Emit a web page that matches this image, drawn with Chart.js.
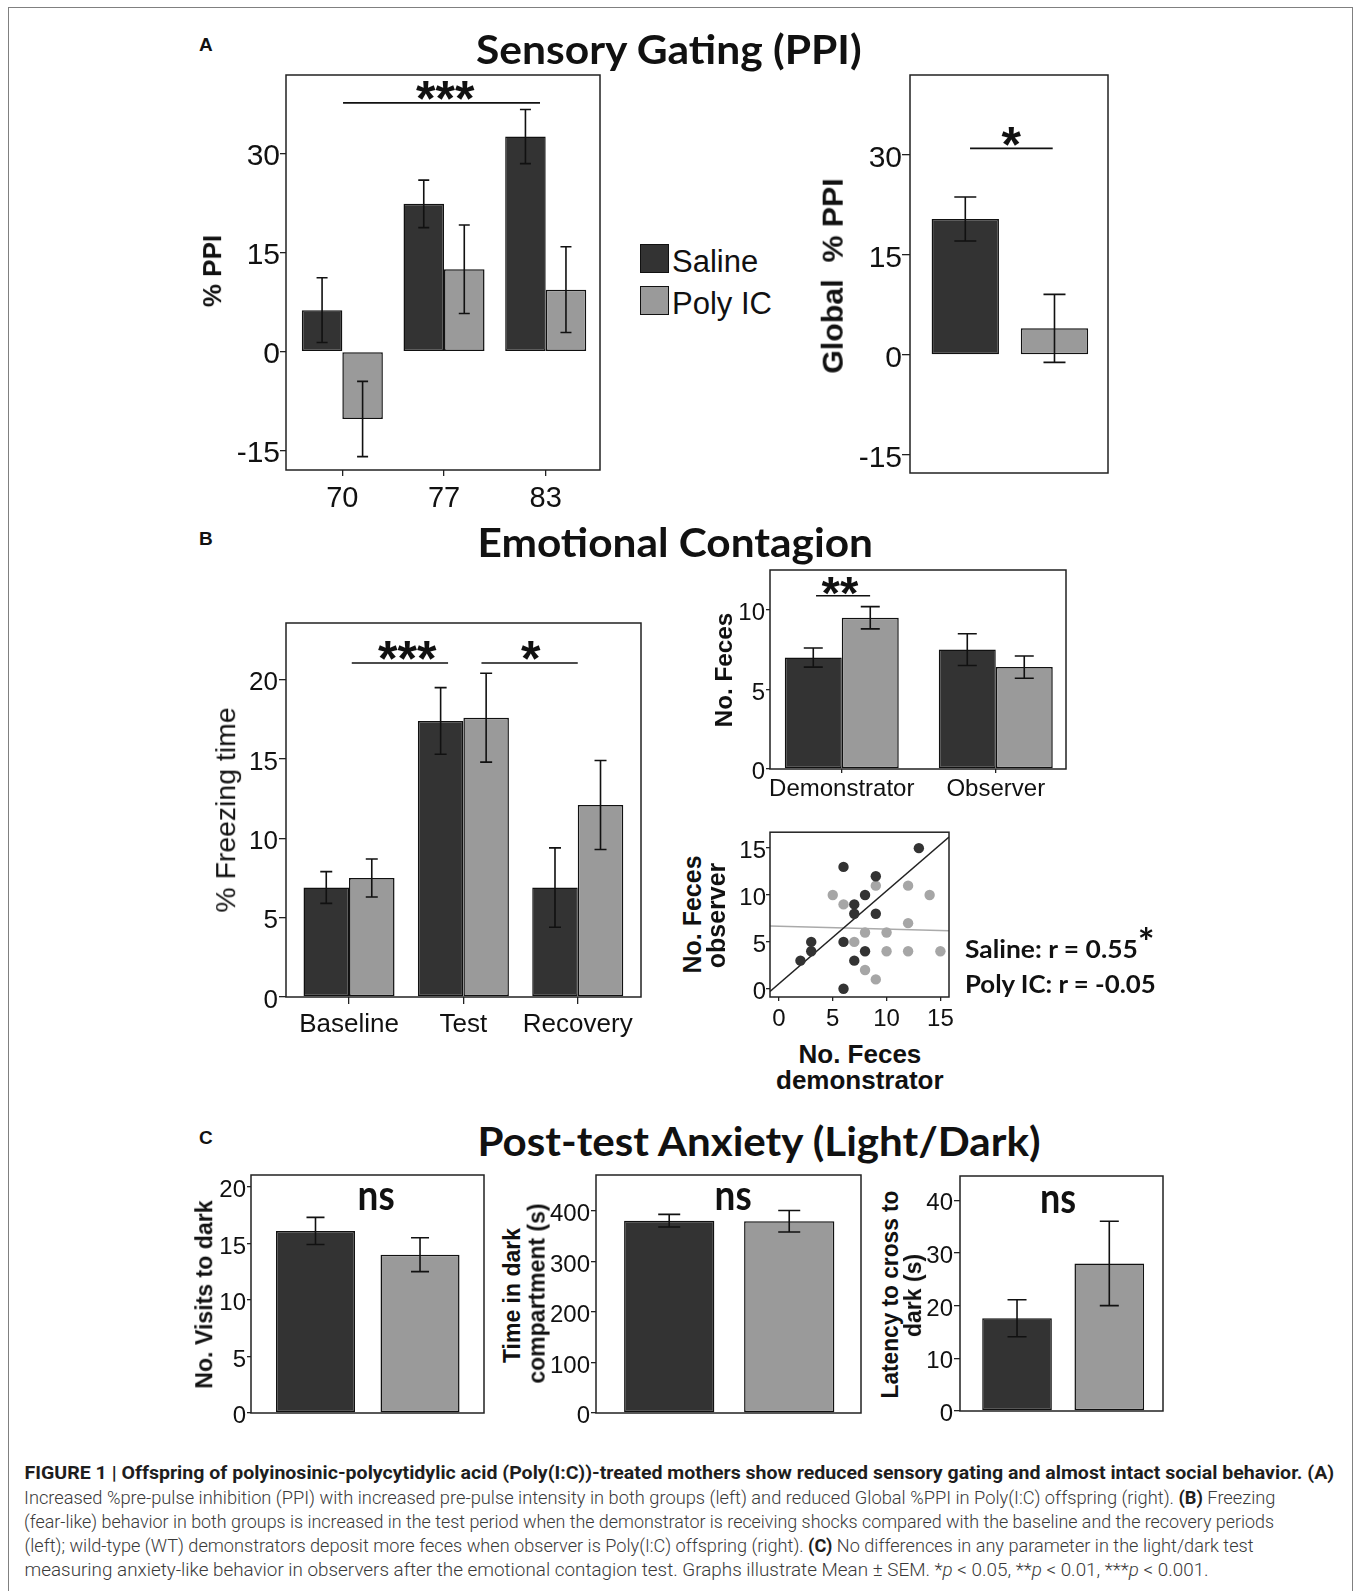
<!DOCTYPE html>
<html><head><meta charset="utf-8">
<script src="https://cdn.jsdelivr.net/npm/chart.js@4/dist/chart.umd.min.js"></script>
<style>
html,body{margin:0;padding:0;background:#fff;}
#page{position:relative;width:1354px;height:1591px;overflow:hidden;background:#fff;}
.frame{position:absolute;left:8px;top:7px;width:1345px;height:1700px;border:1px solid #808080;box-sizing:border-box;}
.t{position:absolute;white-space:nowrap;line-height:1;transform-origin:50% 50%;color:#111;}
.sq{position:absolute;box-sizing:border-box;border:1.5px solid #111;}
</style></head><body><div id="page"><div class="frame"></div></div>
<script>
// ---------------- DATA ----------------
const ppiIntensities = ['70', '77', '83'];
const ppiSaline = [6.3, 22.4, 32.6];
const ppiSalineSem = [4.9, 3.6, 4.1];
const ppiPoly = [-10.2, 12.5, 9.4];
const ppiPolySem = [5.7, 6.7, 6.5];
const ppiTicks = [-15, 0, 15, 30];

const globalGroups = ['Saline', 'Poly IC'];
const globalPPI = [20.4, 4.0];
const globalPPISem = [3.3, 5.1];

const freezingPeriods = ['Baseline', 'Test', 'Recovery'];
const freezingSaline = [6.9, 17.4, 6.9];
const freezingSalineSem = [1.0, 2.1, 2.5];
const freezingPoly = [7.5, 17.6, 12.1];
const freezingPolySem = [1.2, 2.8, 2.8];
const freezingTicks = [0, 5, 10, 15, 20];

const fecesRoles = ['Demonstrator', 'Observer'];
const fecesSaline = [7.0, 7.5];
const fecesSalineSem = [0.6, 1.0];
const fecesPoly = [9.5, 6.4];
const fecesPolySem = [0.7, 0.7];
const fecesTicks = [0, 5, 10];

const scatterSalineDemo = [13, 6, 9, 8, 7, 7, 9, 3, 3, 2, 6, 8, 7, 6];
const scatterSalineObs  = [15, 13, 12, 10, 9, 8, 8, 5, 4, 3, 5, 4, 3, 0];
const scatterPolyDemo = [5, 6, 9, 12, 14, 12, 8, 10, 7, 10, 12, 15, 8, 9];
const scatterPolyObs  = [10, 9, 11, 11, 10, 7, 6, 6, 5, 4, 4, 4, 2, 1];
const scatterTicks = [0, 5, 10, 15];
const salineFit = { intercept: 0.54, slope: 0.99 };
const polyFit = { intercept: 6.66, slope: -0.03 };

const visitsToDark = [16.1, 14.0];
const visitsToDarkSem = [1.2, 1.5];
const visitsTicks = [0, 5, 10, 15, 20];
const timeInDark = [380.6, 379.4];
const timeInDarkSem = [12.5, 21.3];
const timeTicks = [0, 100, 200, 300, 400];
const latencyToDark = [17.6, 28.0];
const latencyToDarkSem = [3.5, 8.0];
const latencyTicks = [0, 10, 20, 30, 40];

// ---------------- STYLE ----------------
const DARK = '#333333', LIGHT = '#9a9a9a', EDGE = '#111111';
const FONT = "'Liberation Sans', Arial, sans-serif";
const LATO = "Lato, 'Open Sans', sans-serif";
const CAP = "Roboto, 'Liberation Sans', sans-serif";
const page = document.getElementById('page');

Chart.defaults.font.family = FONT;
Chart.defaults.color = '#111';

const decoPlugin = {
  id: 'deco',
  afterDatasetsDraw(chart) {
    const ctx = chart.ctx, a = chart.chartArea;
    const ys = chart.scales.y, xs = chart.scales.x;
    ctx.save();
    chart.data.datasets.forEach((ds, i) => {
      if (!ds.errorBars) return;
      const meta = chart.getDatasetMeta(i);
      ctx.strokeStyle = EDGE; ctx.lineWidth = 1.6;
      meta.data.forEach((bar, j) => {
        const d = ds.data[j];
        const v = typeof d === 'object' ? d.y : d, e = ds.errorBars[j];
        const x = bar.x, y1 = ys.getPixelForValue(v + e), y2 = ys.getPixelForValue(v - e);
        const h = ds.capWidth / 2;
        ctx.beginPath();
        ctx.moveTo(x, y1); ctx.lineTo(x, y2);
        ctx.moveTo(x - h, y1); ctx.lineTo(x + h, y1);
        ctx.moveTo(x - h, y2); ctx.lineTo(x + h, y2);
        ctx.stroke();
      });
    });
    const sig = (chart.options.plugins.deco || {}).sig || [];
    ctx.strokeStyle = EDGE; ctx.lineWidth = 1.6;
    sig.forEach(s => {
      const y = ys.getPixelForValue(s.value);
      ctx.beginPath();
      ctx.moveTo(xs.getPixelForValue(s.from), y);
      ctx.lineTo(xs.getPixelForValue(s.to), y);
      ctx.stroke();
    });
    ctx.strokeStyle = '#222'; ctx.lineWidth = 1.5;
    ctx.strokeRect(a.left, a.top, a.right - a.left, a.bottom - a.top);
    ctx.restore();
  }
};

function mountCanvas(box, yW, pT, pR, xH) {
  const w = Math.round(yW + (box.R - box.L) + pR);
  const h = Math.round(pT + (box.B - box.T) + xH);
  const c = document.createElement('canvas');
  c.width = w; c.height = h;
  c.style.cssText = `position:absolute;left:${box.L - yW}px;top:${box.T - pT}px;width:${w}px;height:${h}px;`;
  page.appendChild(c);
  return c;
}

function yAxis(min, max, ticks, yW, size, tl, pad) {
  return {
    type: 'linear', min, max,
    afterBuildTicks: s => { s.ticks = ticks.map(v => ({ value: v })); },
    afterFit: s => { s.width = yW; s.paddingTop = 0; s.paddingBottom = 0; },
    grid: { display: true, drawOnChartArea: false, drawTicks: true, tickLength: tl, color: '#222', lineWidth: 1.3 },
    border: { display: false },
    ticks: { font: { size, family: FONT }, color: '#111', padding: pad, labelOffset: 3.5, autoSkip: false, maxRotation: 0 }
  };
}
// group axis: linear index scale so that group centres sit where the original put them
function xIdx(labels, min, max, xH, size, tl, pad, show) {
  return {
    type: 'linear', min, max, offset: false, display: show !== false,
    afterBuildTicks: s => { s.ticks = labels.map((_, i) => ({ value: i })); },
    afterFit: s => { s.height = xH; s.paddingLeft = 0; s.paddingRight = 0; },
    grid: { display: tl > 0, offset: false, drawOnChartArea: false, drawTicks: true, tickLength: tl, color: '#222', lineWidth: 1.3 },
    border: { display: false },
    ticks: { display: size > 0, callback: v => labels[Math.round(v)], font: { size: size || 12, family: FONT },
             color: '#111', padding: pad, maxRotation: 0, autoSkip: false }
  };
}
const asPts = arr => arr.map((y, i) => ({ x: i, y }));
function barDs(data, bg, sem, cp, capW) {
  return { data: asPts(data), backgroundColor: bg, borderColor: EDGE, borderWidth: 1.5, borderSkipped: false,
           categoryPercentage: cp, barPercentage: 1, errorBars: sem, capWidth: capW };
}
function baseOpts(pT, pR, pB, scales, sig) {
  return {
    responsive: false, animation: false, events: [],
    layout: { padding: { left: 0, top: pT, right: pR, bottom: pB } },
    plugins: { legend: { display: false }, tooltip: { enabled: false }, deco: { sig: sig || [] } },
    scales
  };
}

// ---- A left: %PPI by pre-pulse intensity
(function () {
  const box = { L: 286, T: 75, R: 600, B: 470 };
  const yW = 80, pT = 5, pR = 5, xH = 45;
  new Chart(mountCanvas(box, yW, pT, pR, xH), {
    type: 'bar', plugins: [decoPlugin],
    data: { datasets: [
      barDs(ppiSaline, DARK, ppiSalineSem, 0.797, 11),
      barDs(ppiPoly, LIGHT, ppiPolySem, 0.797, 11)] },
    options: baseOpts(pT, pR, 0, {
      x: xIdx(ppiIntensities, -0.554, 2.534, xH, 29, 6, 6),
      y: yAxis(-17.92, 41.92, ppiTicks, yW, 30, 6, 0)
    }, [{ from: 0.007, to: 1.944, value: 37.7 }])
  });
})();

// ---- A right: Global %PPI
(function () {
  const box = { L: 910, T: 75, R: 1108, B: 473 };
  const yW = 70, pT = 5, pR = 5, pB = 24;
  new Chart(mountCanvas(box, yW, pT, pR, pB), {
    type: 'bar', plugins: [decoPlugin],
    data: { datasets: [barDs(globalPPI, [DARK, LIGHT], globalPPISem, 0.755, 22)] },
    options: baseOpts(pT, pR, pB, {
      x: xIdx(globalGroups, -0.62, 1.6, 0, 0, 0, 0, false),
      y: yAxis(-17.7, 42.0, ppiTicks, yW, 30, 8, 0)
    }, [{ from: 0.053, to: 0.98, value: 31.0 }])
  });
})();

// ---- B left: % freezing time
(function () {
  const box = { L: 286, T: 623, R: 641, B: 997 };
  const yW = 70, pT = 5, pR = 5, xH = 45;
  new Chart(mountCanvas(box, yW, pT, pR, xH), {
    type: 'bar', plugins: [decoPlugin],
    data: { datasets: [
      barDs(freezingSaline, DARK, freezingSalineSem, 0.796, 12),
      barDs(freezingPoly, LIGHT, freezingPolySem, 0.796, 12)] },
    options: baseOpts(pT, pR, 0, {
      x: xIdx(freezingPeriods, -0.551, 2.553, xH, 26, 7, 5),
      y: yAxis(0, 23.57, freezingTicks, yW, 26, 7, 1)
    }, [{ from: 0.024, to: 0.866, value: 21.05 }, { from: 1.158, to: 2.0, value: 21.05 }])
  });
})();

// ---- B top right: No. feces
(function () {
  const box = { L: 770, T: 570, R: 1066, B: 769 };
  const yW = 50, pT = 5, pR = 5, xH = 35;
  new Chart(mountCanvas(box, yW, pT, pR, xH), {
    type: 'bar', plugins: [decoPlugin],
    data: { datasets: [
      barDs(fecesSaline, DARK, fecesSalineSem, 0.74, 19),
      barDs(fecesPoly, LIGHT, fecesPolySem, 0.74, 19)] },
    options: baseOpts(pT, pR, 0, {
      x: xIdx(fecesRoles, -0.466, 1.456, xH, 24, 4, 2),
      y: yAxis(0, 12.5, fecesTicks, yW, 24, 4, 1)
    }, [{ from: -0.167, to: 0.184, value: 10.88 }])
  });
})();

// ---- B scatter: feces demonstrator vs observer
(function () {
  const box = { L: 770, T: 832, R: 949, B: 997 };
  const yW = 40, pT = 5, pR = 20, xH = 35;
  const xMin = -0.83, xMax = 15.8;
  const pts = (xs, ys) => xs.map((x, i) => ({ x, y: ys[i] }));
  const fitLine = f => [xMin, xMax].map(x => ({ x, y: f.intercept + f.slope * x }));
  const xAx = yAxis(xMin, xMax, scatterTicks, 0, 24, 4, 4);
  xAx.ticks.labelOffset = 0;
  xAx.afterFit = s => { s.height = xH; s.paddingLeft = 0; s.paddingRight = 0; };
  new Chart(mountCanvas(box, yW, pT, pR, xH), {
    type: 'scatter', plugins: [decoPlugin],
    data: { datasets: [
      { type: 'scatter', data: pts(scatterSalineDemo, scatterSalineObs), pointRadius: 5.2, pointBackgroundColor: DARK, pointBorderWidth: 0, order: 0 },
      { type: 'scatter', data: pts(scatterPolyDemo, scatterPolyObs), pointRadius: 5.2, pointBackgroundColor: '#a6a6a6', pointBorderWidth: 0, order: 0 },
      { type: 'line', data: fitLine(salineFit), borderColor: '#222', borderWidth: 1.5, pointRadius: 0, order: 1 },
      { type: 'line', data: fitLine(polyFit), borderColor: '#aaaaaa', borderWidth: 1.5, pointRadius: 0, order: 1 }
    ] },
    options: baseOpts(pT, pR, 0, {
      x: xAx,
      y: yAxis(-0.88, 16.7, scatterTicks, yW, 24, 4, 0)
    })
  });
})();

// ---- C: light/dark test
function ldChart(box, yW, vals, sem, ymax, ticks, tl, capW, xr, cp) {
  const pT = 5, pR = 5, pB = 22;
  new Chart(mountCanvas(box, yW, pT, pR, pB), {
    type: 'bar', plugins: [decoPlugin],
    data: { datasets: [barDs(vals, [DARK, LIGHT], sem, cp, capW)] },
    options: baseOpts(pT, pR, pB, {
      x: xIdx(globalGroups, xr[0], xr[1], 0, 0, 0, 0, false),
      y: yAxis(0, ymax, ticks, yW, 24, tl, 1)
    })
  });
}
ldChart({ L: 251, T: 1175, R: 484, B: 1413 }, 50, visitsToDark, visitsToDarkSem, 21.05, visitsTicks, 4, 18, [-0.617, 1.612], 0.756);
ldChart({ L: 596, T: 1175, R: 861, B: 1413 }, 60, timeInDark, timeInDarkSem, 471, timeTicks, 5, 22, [-0.61, 1.598], 0.752);
ldChart({ L: 960, T: 1176, R: 1163, B: 1411 }, 50, latencyToDark, latencyToDarkSem, 44.6, latencyTicks, 6, 19, [-0.618, 1.582], 0.755);

// ---------------- TEXT ----------------
const texts = [];
function txt(html, o) {
  const d = document.createElement('div');
  d.className = 't';
  d.innerHTML = html;
  d.style.fontFamily = o.f || FONT;
  d.style.fontSize = o.size + 'px';
  d.style.fontWeight = o.w || 400;
  if (o.c) d.style.color = o.c;
  page.appendChild(d);
  texts.push([d, o]);
}
function place() {
  texts.forEach(([d, o]) => {
    d.style.transform = 'none';
    const w = d.offsetWidth, h = d.offsetHeight;
    const sx = o.fit ? o.fit / w : 1;
    const vc = o.vc === undefined ? 0.5 : o.vc;
    let cx = o.x;
    if (o.anchor === 'left') cx = o.x + w * sx / 2;
    d.style.left = (cx - w / 2) + 'px';
    if (o.rot) {
      d.style.top = (o.y - h / 2) + 'px';
      d.style.transform = `rotate(-90deg) scaleX(${sx})`;
    } else {
      d.style.top = (o.y - vc * h) + 'px';
      d.style.transform = `scaleX(${sx})`;
    }
  });
}

txt('Sensory Gating (PPI)', { x: 669, y: 48, size: 41, w: 700, f: LATO, fit: 386 });
txt('Emotional Contagion', { x: 675, y: 541, size: 41, w: 700, f: LATO, fit: 396 });
txt('Post-test Anxiety (Light/Dark)', { x: 759, y: 1140, size: 41, w: 700, f: LATO, fit: 563 });
txt('A', { x: 206, y: 44, size: 19, w: 700 });
txt('B', { x: 206, y: 538, size: 19, w: 700 });
txt('C', { x: 206, y: 1137, size: 19, w: 700 });

[[DARK, 244], [LIGHT, 286]].forEach(([col, top]) => {
  const s = document.createElement('div');
  s.className = 'sq';
  s.style.cssText += `left:640px;top:${top}px;width:29px;height:29px;background:${col};`;
  page.appendChild(s);
});
txt('Saline', { x: 672, y: 261, size: 31, anchor: 'left' });
txt('Poly IC', { x: 672, y: 303, size: 31, anchor: 'left' });

txt('% PPI', { x: 212, y: 271, size: 26, w: 700, rot: true });
txt('Global&nbsp;&nbsp;% PPI', { x: 832, y: 276, size: 30, w: 700, rot: true, fit: 195 });
txt('% Freezing time', { x: 226, y: 810, size: 28, rot: true, fit: 205 });
txt('No. Feces', { x: 723, y: 670, size: 24, w: 700, rot: true, fit: 114 });
txt('No. Feces', { x: 692, y: 914, size: 25, w: 700, rot: true });
txt('observer', { x: 717, y: 915, size: 25, w: 700, rot: true });
txt('No. Feces', { x: 860, y: 1054, size: 26, w: 700 });
txt('demonstrator', { x: 860, y: 1080, size: 26, w: 700 });
txt('No. Visits to dark', { x: 204, y: 1294, size: 23, w: 700, rot: true, fit: 188 });
txt('Time in dark', { x: 512, y: 1295, size: 23, w: 700, rot: true });
txt('compartment (s)', { x: 537, y: 1293, size: 23, w: 700, rot: true });
txt('Latency to cross to', { x: 890, y: 1294, size: 23, w: 700, rot: true, fit: 208 });
txt('dark (s)', { x: 913, y: 1295, size: 23, w: 700, rot: true });

txt('Saline: r = 0.55<span style="font-size:1.5em;line-height:0;position:relative;top:-0.05em">*</span>', { x: 965, y: 948, size: 25, w: 700, f: LATO, anchor: 'left', fit: 190 });
txt('Poly IC: r = -0.05', { x: 965, y: 983, size: 25, w: 700, f: LATO, anchor: 'left', fit: 191 });

// significance asterisks, sitting just above their bars
txt('***', { x: 445, y: 88.5, size: 50, w: 700, vc: 0.2965, fit: 58 });
txt('*', { x: 1011, y: 135, size: 50, w: 700, vc: 0.2965 });
txt('***', { x: 407, y: 648.5, size: 50, w: 700, vc: 0.2965, fit: 58 });
txt('*', { x: 530.5, y: 648.5, size: 50, w: 700, vc: 0.2965 });
txt('**', { x: 840, y: 583.5, size: 46, w: 700, vc: 0.2965, fit: 37 });
txt('ns', { x: 375.5, y: 1200, size: 42, w: 700, f: LATO, vc: 0.634, fit: 37 });
txt('ns', { x: 732.5, y: 1200, size: 42, w: 700, f: LATO, vc: 0.634, fit: 37 });
txt('ns', { x: 1058, y: 1203, size: 42, w: 700, f: LATO, vc: 0.634, fit: 36 });

const capLines = [
  ['<b style="font-weight:700;color:#1e1e1e">FIGURE 1 | Offspring of polyinosinic-polycytidylic acid (Poly(I:C))-treated mothers show reduced sensory gating and almost intact social behavior. (A)</b>', 1310],
  ['Increased %pre-pulse inhibition (PPI) with increased pre-pulse intensity in both groups (left) and reduced Global %PPI in Poly(I:C) offspring (right). <b style="font-weight:700;color:#1e1e1e">(B)</b> Freezing', 1251],
  ['(fear-like) behavior in both groups is increased in the test period when the demonstrator is receiving shocks compared with the baseline and the recovery periods', 1250],
  ['(left); wild-type (WT) demonstrators deposit more feces when observer is Poly(I:C) offspring (right). <b style="font-weight:700;color:#1e1e1e">(C)</b> No differences in any parameter in the light/dark test', 1229],
  ['measuring anxiety-like behavior in observers after the emotional contagion test. Graphs illustrate Mean ± SEM. *<i>p</i> &lt; 0.05, **<i>p</i> &lt; 0.01, ***<i>p</i> &lt; 0.001.', 1184]
];
const capY = [1472, 1497, 1521, 1545, 1569];
capLines.forEach(([h, w], i) => txt(h, { x: 24, y: capY[i], size: 19, w: 300, f: CAP, c: '#3a3a3a', anchor: 'left', fit: w }));

place();
if (document.fonts && document.fonts.ready) document.fonts.ready.then(place);
</script>
</body></html>
